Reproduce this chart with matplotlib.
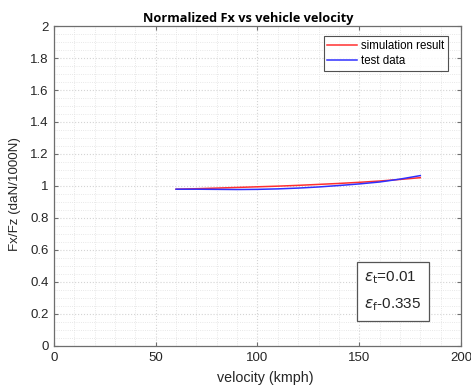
import numpy as np
import matplotlib.pyplot as plt
from matplotlib.ticker import MultipleLocator

# =========================
# DATA
# =========================
sim_velocity = [60, 70, 80, 90, 100, 110, 120, 130, 140, 150, 160, 170, 180]
sim_fx = [0.980, 0.983, 0.987, 0.991, 0.995, 0.999, 1.004, 1.010, 1.016, 1.023, 1.031, 1.041, 1.052]

test_velocity = [60, 70, 80, 90, 100, 110, 120, 130, 140, 150, 160, 170, 180]
test_fx = [0.980, 0.980, 0.979, 0.978, 0.979, 0.982, 0.987, 0.994, 1.003, 1.013, 1.025, 1.043, 1.065]

eps_t = "0.01"
eps_f = "-0.335"

x_ticks = [0, 50, 100, 150, 200]
y_ticks = [0, 0.2, 0.4, 0.6, 0.8, 1, 1.2, 1.4, 1.6, 1.8, 2]
y_tick_labels = ["0", "0.2", "0.4", "0.6", "0.8", "1", "1.2", "1.4", "1.6", "1.8", "2"]

# =========================
# FIGURE
# =========================
plt.rcParams["font.family"] = ["Liberation Sans", "DejaVu Sans"]
axis_grey = "#6e6e6e"
text_col = "#262626"

fig = plt.figure(figsize=(4.71, 3.91), dpi=100)
ax = fig.add_axes([0.1146, 0.1151, 0.8642, 0.8184])

ax.plot(sim_velocity, sim_fx, color="#ff3030", linewidth=1.1, label="simulation result")
ax.plot(test_velocity, test_fx, color="#3030ff", linewidth=1.1, label="test data")

ax.set_xlim(0, 200)
ax.set_ylim(0, 2)
ax.set_xticks(x_ticks)
ax.set_yticks(y_ticks)
ax.set_yticklabels(y_tick_labels)
ax.xaxis.set_minor_locator(MultipleLocator(10))
ax.yaxis.set_minor_locator(MultipleLocator(0.05))

ax.grid(True, which="major", color="#d4d4d4", linestyle=":", linewidth=0.8)
ax.grid(True, which="minor", color="#e0e0e0", linestyle=":", linewidth=0.6)
ax.set_axisbelow(True)

ax.tick_params(which="major", direction="in", length=3, width=0.8, colors=axis_grey,
               labelcolor=text_col, labelsize=9.5, top=True, right=True, pad=4)
ax.tick_params(which="minor", length=0, top=True, right=True)
for side in ax.spines.values():
    side.set_color(axis_grey)
    side.set_linewidth(0.9)

ax.set_xlabel("velocity (kmph)", fontsize=10.3, color=text_col, va="center")
ax.xaxis.set_label_coords(0.518, -0.1)
ax.set_ylabel("Fx/Fz (daN/1000N)", fontsize=9.6, color=text_col, va="center")
ax.yaxis.set_label_coords(-0.096, 0.475)
ax.set_title("Normalized Fx vs vehicle velocity", fontsize=9.2, fontweight="bold",
             family=["Open Sans", "DejaVu Sans"], x=0.477, pad=3)

leg = ax.legend(loc="upper right", bbox_to_anchor=(0.968, 0.968), fontsize=8.3,
                frameon=True, fancybox=False, borderpad=0.3, handlelength=2.6,
                handletextpad=0.35, labelspacing=0.3, borderaxespad=0)
leg.get_frame().set_edgecolor(text_col)
leg.get_frame().set_linewidth(0.8)

ax.text(0.762, 0.17,
        r"$\epsilon_{\rm t}$=" + eps_t + "\n" + r"$\epsilon_{\rm f}$" + eps_f,
        transform=ax.transAxes, fontsize=11, color=text_col, va="center", ha="left",
        linespacing=1.85,
        bbox=dict(boxstyle="square,pad=0.5", facecolor="white", edgecolor="#555555", linewidth=0.9))

fig.savefig("out.png", dpi=100)
